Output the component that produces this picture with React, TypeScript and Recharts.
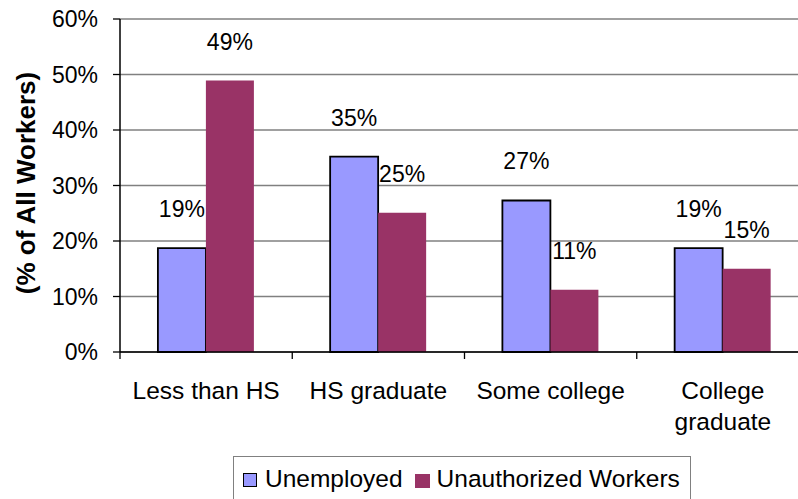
import React from 'react';
import { BarChart, Bar, XAxis, YAxis, CartesianGrid, Legend, LabelList } from 'recharts';

const categories = ['Less than HS', 'HS graduate', 'Some college', 'College graduate'];
const unemployed = [18.7, 35.2, 27.3, 18.7];
const unauthorized = [48.9, 25.1, 11.2, 15.0];
const yTicks = [0, 10, 20, 30, 40, 50, 60];
const seriesNames = ['Unemployed', 'Unauthorized Workers'];

const data = categories.map((c, i) => ({ name: c, unemployed: unemployed[i], unauthorized: unauthorized[i] }));

const FONT = '"Liberation Sans", Arial, sans-serif';
const FS = 23;
const XFS = 24.5;
const BLUE = '#9999FF';
const PLUM = '#993366';

let ctx: CanvasRenderingContext2D | null = null;
const measure = (s: string) => {
  if (!ctx) ctx = document.createElement('canvas').getContext('2d');
  if (!ctx) return s.length * XFS * 0.5;
  ctx.font = `${XFS}px ${FONT}`;
  return ctx.measureText(s).width;
};

const wrap = (s: string, maxW: number) => {
  const words = s.split(' ');
  const lines: string[] = [];
  let cur = '';
  words.forEach((w) => {
    const t = cur ? cur + ' ' + w : w;
    if (cur && measure(t) > maxW) {
      lines.push(cur);
      cur = w;
    } else cur = t;
  });
  if (cur) lines.push(cur);
  return lines;
};

const XTick = (props: any) => {
  const { x, y, payload, index } = props;
  const half = payload.offset || 86;
  const axisY = y - 30;
  const lines = wrap(String(payload.value), half * 2 - 6);
  return (
    <g>
      <line x1={x - half} x2={x - half} y1={axisY} y2={axisY + 7} stroke="#000" strokeWidth={1.3} />
      {index === categories.length - 1 && (
        <line x1={x + half} x2={x + half} y1={axisY} y2={axisY + 7} stroke="#000" strokeWidth={1.3} />
      )}
      <text x={x} y={y} textAnchor="middle" fontSize={XFS} fontFamily={FONT} fill="#000">
        {lines.map((l, i) => (
          <tspan key={i} x={x} dy={i === 0 ? '0.71em' : 31}>
            {l}
          </tspan>
        ))}
      </text>
    </g>
  );
};

const barLabel = (props: any) => {
  const { x, y, width, value } = props;
  return (
    <text
      x={x + width / 2}
      y={y - 39}
      textAnchor="middle"
      dominantBaseline="central"
      fontSize={FS}
      fontFamily={FONT}
      fill="#000"
    >
      {Math.round(value) + '%'}
    </text>
  );
};

const LegendBox = () => (
  <div
    style={{
      border: '1px solid #808080',
      height: 52,
      boxSizing: 'border-box',
      paddingTop: 8,
      paddingLeft: 9,
      display: 'flex',
      alignItems: 'flex-start',
      fontFamily: FONT,
      fontSize: XFS,
      color: '#000',
      lineHeight: '28px',
      whiteSpace: 'nowrap',
    }}
  >
    <div style={{ display: 'flex', alignItems: 'flex-end', height: 28 }}>
      <div style={{ width: 12, height: 12, background: BLUE, border: '1.5px solid #000', marginBottom: 6, marginRight: 8 }} />
      <span>{seriesNames[0]}</span>
    </div>
    <div style={{ display: 'flex', alignItems: 'flex-end', height: 28, marginLeft: 12 }}>
      <div style={{ width: 15, height: 14, background: PLUM, marginBottom: 5, marginRight: 7 }} />
      <span>{seriesNames[1]}</span>
    </div>
  </div>
);

const YLabel = (props: any) => {
  const { viewBox } = props;
  const cx = viewBox.x + 26;
  const cy = 183;
  return (
    <text
      x={cx}
      y={cy}
      transform={`rotate(-90, ${cx}, ${cy})`}
      textAnchor="middle"
      dominantBaseline="central"
      fontSize={26}
      fontWeight="bold"
      fontFamily={FONT}
      fill="#000"
    >
      (% of All Workers)
    </text>
  );
};

export default function App() {
  return (
    <div style={{ position: 'fixed', left: 0, top: 0, width: 798, height: 499, overflow: 'hidden', background: '#fff' }}>
      <BarChart
        width={830}
        height={499}
        data={data}
        margin={{ top: 19, right: 21, bottom: 0, left: 0 }}
        barCategoryGap="22%"
        barGap={0}
      >
        <CartesianGrid vertical={false} stroke="#808080" strokeWidth={1.5} />
        <XAxis
          dataKey="name"
          height={147}
          interval={0}
          tickLine={false}
          tickSize={6}
          tickMargin={24}
          axisLine={{ stroke: '#000', strokeWidth: 1.5 }}
          tick={<XTick />}
        />
        <YAxis
          width={120}
          domain={[0, 60]}
          ticks={yTicks}
          interval={0}
          tickFormatter={(v: number) => v + '%'}
          tickSize={7}
          tickMargin={15}
          axisLine={{ stroke: '#000', strokeWidth: 1.5 }}
          tickLine={{ stroke: '#000', strokeWidth: 1.3 }}
          tick={{ fontSize: FS, fontFamily: FONT, fill: '#000' }}
          label={<YLabel />}
        />
        <Legend
          layout="horizontal"
          verticalAlign="middle"
          align="center"
          wrapperStyle={{ top: 456, left: 233, width: 458 }}
          content={<LegendBox />}
        />
        <Bar dataKey="unemployed" name={seriesNames[0]} fill={BLUE} stroke="#000" strokeWidth={1.8} isAnimationActive={false}>
          <LabelList dataKey="unemployed" content={barLabel} />
        </Bar>
        <Bar dataKey="unauthorized" name={seriesNames[1]} fill={PLUM} isAnimationActive={false}>
          <LabelList dataKey="unauthorized" content={barLabel} />
        </Bar>
      </BarChart>
    </div>
  );
}
